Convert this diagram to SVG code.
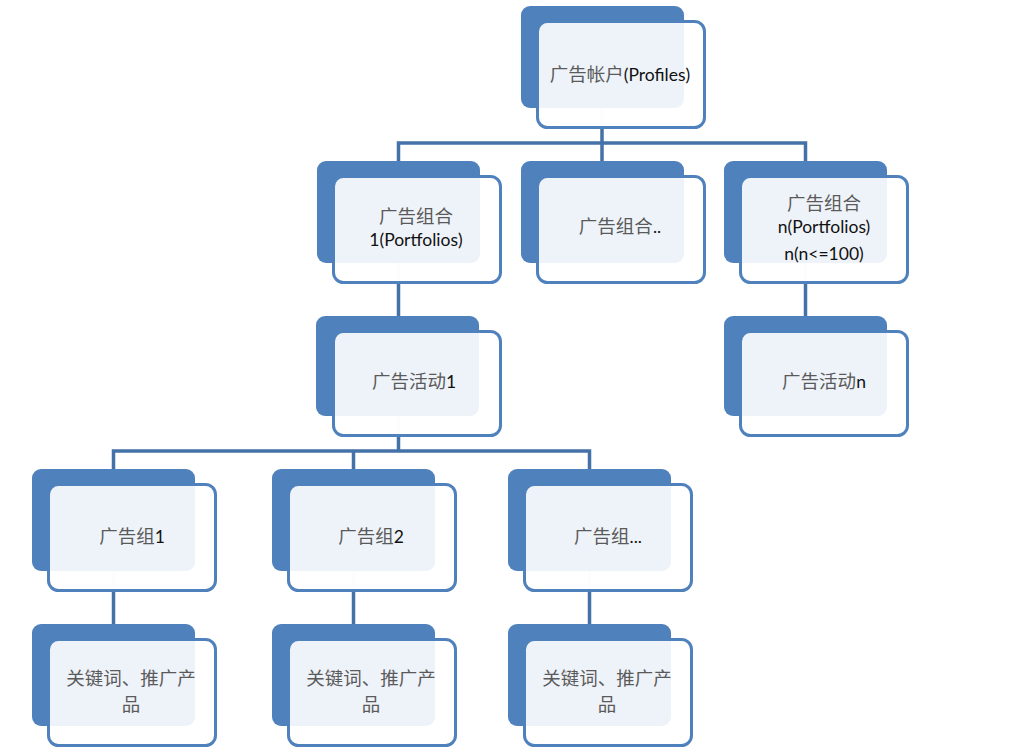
<svg xmlns="http://www.w3.org/2000/svg" width="1019" height="749" viewBox="0 0 1019 749">
<style>
.back{fill:#4f81bd}
.front{fill:#ffffff;fill-opacity:0.9;stroke:#4f81bd;stroke-width:3}
.conn{fill:none;stroke:#4472a8;stroke-width:3.5}
.ghost{fill:none;stroke:#dfe6f1;stroke-width:3.5}
text{font-size:17px;text-anchor:middle}
.zh{font-family:"Noto Sans CJK SC","Noto Sans",sans-serif;fill:#5a5a5a;font-size:18.5px}
.en{font-family:Lato,"Liberation Sans",sans-serif;fill:#111111;font-size:17.5px}
</style>
<rect width="1019" height="749" fill="#ffffff"/>
<g id="connectors">
<path class="ghost" d="M602,108 V127 M398.5,262 V282 M805.5,262 V282 M398.5,415 V435 M113.5,571 V590 M353.5,571 V590 M589.5,571 V590"/>
<path class="conn" d="M398.5,161 V143 H805.5 V161 M602,129 V161"/>
<path class="conn" d="M398.5,284 V316"/>
<path class="conn" d="M805.5,284 V316"/>
<path class="conn" d="M398.5,437 V451 M113.5,469 V451 H589.5 V469 M353.5,451 V469"/>
<path class="conn" d="M113.5,592 V624 M353.5,592 V624 M589.5,592 V624"/>
</g>
<g id="n-profiles">
<rect class="back" x="521" y="6" width="163" height="102" rx="9"/>
<rect class="front" x="537.5" y="21.5" width="167" height="106" rx="10"/>
<text x="620" y="81"><tspan class="zh">广告帐户</tspan><tspan class="en">(Profiles)</tspan></text>
</g>
<g id="n-portfolio1">
<rect class="back" x="317" y="161" width="163" height="102" rx="9"/>
<rect class="front" x="333.5" y="176.5" width="167" height="106" rx="10"/>
<text x="416" y="223"><tspan class="zh">广告组合</tspan><tspan class="en" x="416" dy="23">1(Portfolios)</tspan></text>
</g>
<g id="n-portfolio-mid">
<rect class="back" x="521" y="161" width="163" height="102" rx="9"/>
<rect class="front" x="537.5" y="176.5" width="167" height="106" rx="10"/>
<text x="620" y="233"><tspan class="zh">广告组合</tspan><tspan class="en">..</tspan></text>
</g>
<g id="n-portfolion">
<rect class="back" x="724" y="161" width="163" height="102" rx="9"/>
<rect class="front" x="740.5" y="176.5" width="167" height="106" rx="10"/>
<text x="824" y="210"><tspan class="zh">广告组合</tspan><tspan class="en" x="824" dy="23">n(Portfolios)</tspan><tspan class="en" x="824" dy="27">n(n&lt;=100)</tspan></text>
</g>
<g id="n-campaign1">
<rect class="back" x="316" y="316" width="163" height="100" rx="9"/>
<rect class="front" x="333.5" y="331.5" width="167" height="104" rx="10"/>
<text x="414" y="388"><tspan class="zh">广告活动</tspan><tspan class="en">1</tspan></text>
</g>
<g id="n-campaignn">
<rect class="back" x="724" y="316" width="163" height="100" rx="9"/>
<rect class="front" x="740.5" y="331.5" width="167" height="104" rx="10"/>
<text x="824" y="388"><tspan class="zh">广告活动</tspan><tspan class="en">n</tspan></text>
</g>
<g id="n-group1">
<rect class="back" x="32" y="469" width="163" height="102" rx="9"/>
<rect class="front" x="48.5" y="484.5" width="167" height="106" rx="10"/>
<text x="132" y="543"><tspan class="zh">广告组</tspan><tspan class="en">1</tspan></text>
</g>
<g id="n-group2">
<rect class="back" x="272" y="469" width="163" height="102" rx="9"/>
<rect class="front" x="288.5" y="484.5" width="167" height="106" rx="10"/>
<text x="371" y="543"><tspan class="zh">广告组</tspan><tspan class="en">2</tspan></text>
</g>
<g id="n-group3">
<rect class="back" x="508" y="469" width="163" height="102" rx="9"/>
<rect class="front" x="524.5" y="484.5" width="167" height="106" rx="10"/>
<text x="608" y="543"><tspan class="zh">广告组</tspan><tspan class="en">...</tspan></text>
</g>
<g id="n-kw1">
<rect class="back" x="32" y="624" width="163" height="102" rx="9"/>
<rect class="front" x="48.5" y="639.5" width="167" height="106" rx="10"/>
<text x="131" y="685" class="zh">关键词、推广产<tspan x="131" dy="26">品</tspan></text>
</g>
<g id="n-kw2">
<rect class="back" x="272" y="624" width="163" height="102" rx="9"/>
<rect class="front" x="288.5" y="639.5" width="167" height="106" rx="10"/>
<text x="371" y="685" class="zh">关键词、推广产<tspan x="371" dy="26">品</tspan></text>
</g>
<g id="n-kw3">
<rect class="back" x="508" y="624" width="163" height="102" rx="9"/>
<rect class="front" x="524.5" y="639.5" width="167" height="106" rx="10"/>
<text x="607" y="685" class="zh">关键词、推广产<tspan x="607" dy="26">品</tspan></text>
</g>
</svg>
